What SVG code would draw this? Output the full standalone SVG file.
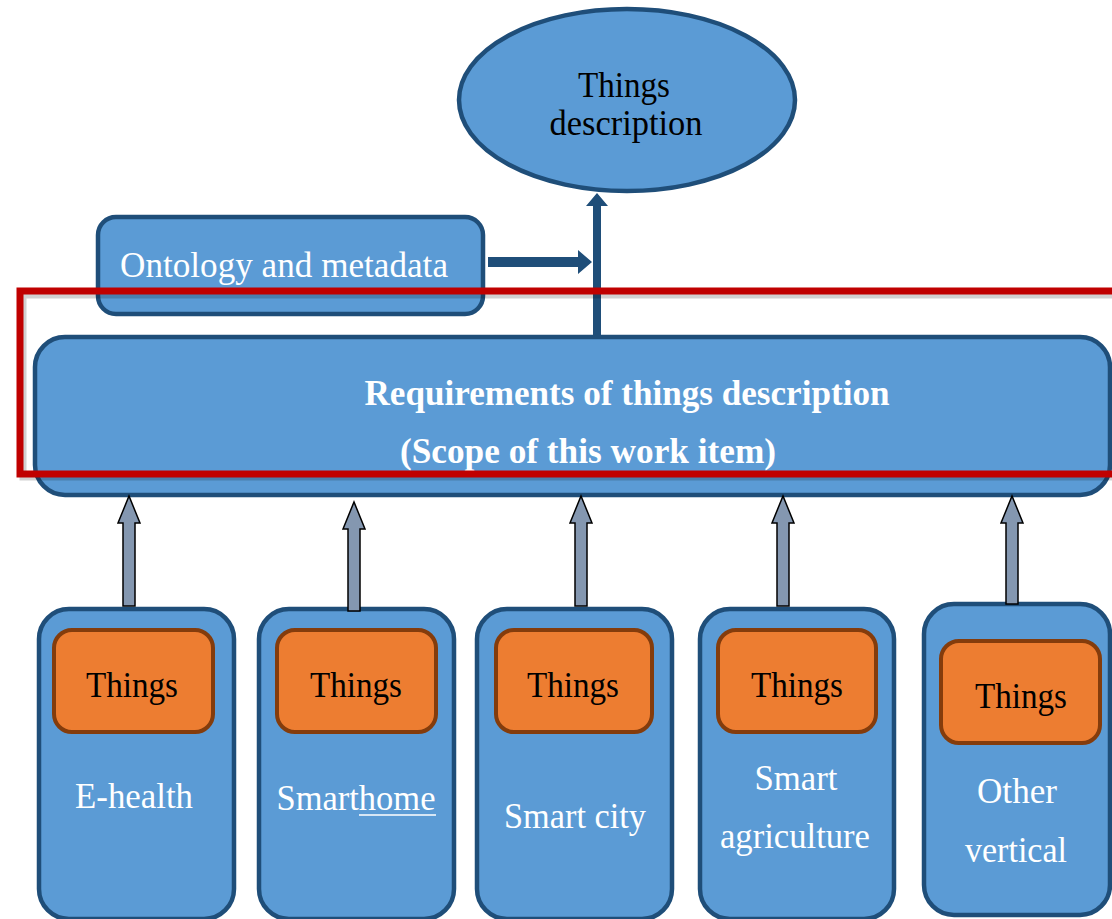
<svg xmlns="http://www.w3.org/2000/svg" width="1112" height="919" viewBox="0 0 1112 919">
<style>
.blue{fill:#5B9BD5;stroke:#1F4E79;stroke-width:4.5}
.org{fill:#ED7D31;stroke:#843C0C;stroke-width:4}
.up{fill:#8497B0;stroke:#000;stroke-width:1.5}
.t{font-family:"Liberation Serif","Times New Roman",serif;text-anchor:middle}
.w{fill:#fff;font-size:35px}
.k{fill:#000;font-size:35px}
.b{fill:#fff;font-size:35px;font-weight:bold}
</style>
<rect width="1112" height="919" fill="#fff"/>
<g id="things-description">
<ellipse class="blue" cx="627" cy="100" rx="168" ry="91"/>
<text class="t k" x="624" y="97" textLength="92" lengthAdjust="spacingAndGlyphs">Things</text>
<text class="t k" x="626" y="135" textLength="153" lengthAdjust="spacingAndGlyphs">description</text>
</g>
<g id="ontology">
<rect class="blue" x="98" y="217" width="385" height="97" rx="18"/>
<text class="t w" x="284" y="277" textLength="328" lengthAdjust="spacingAndGlyphs">Ontology  and metadata</text>
</g>
<g id="requirements">
<rect class="blue" x="35" y="337" width="1075" height="158" rx="30"/>
<text class="t b" x="627" y="405" textLength="525" lengthAdjust="spacingAndGlyphs">Requirements of things description</text>
<text class="t b" x="588" y="463" textLength="376" lengthAdjust="spacingAndGlyphs">(Scope of this work item)</text>
</g>
<g id="col-ehealth">
<rect class="blue" x="39" y="609" width="195" height="310" rx="30"/>
<rect class="org" x="54" y="630" width="159" height="102" rx="18"/>
<text class="t k" x="132" y="697" textLength="92" lengthAdjust="spacingAndGlyphs">Things</text>
<text class="t w" x="134" y="808" textLength="118" lengthAdjust="spacingAndGlyphs">E-health</text>
</g>
<g id="col-smarthome">
<rect class="blue" x="259" y="609" width="195" height="310" rx="30"/>
<rect class="org" x="277" y="630" width="159" height="102" rx="18"/>
<text class="t k" x="356" y="697" textLength="92" lengthAdjust="spacingAndGlyphs">Things</text>
<text class="t w" x="356" y="810" textLength="159" lengthAdjust="spacingAndGlyphs">Smarthome</text>
<line x1="359" y1="815" x2="436" y2="815" stroke="#fff" stroke-width="1.5"/>
</g>
<g id="col-smartcity">
<rect class="blue" x="477" y="609" width="195" height="310" rx="30"/>
<rect class="org" x="496" y="630" width="156" height="102" rx="18"/>
<text class="t k" x="573" y="697" textLength="92" lengthAdjust="spacingAndGlyphs">Things</text>
<text class="t w" x="575" y="828" textLength="142" lengthAdjust="spacingAndGlyphs">Smart city</text>
</g>
<g id="col-agriculture">
<rect class="blue" x="700" y="609" width="194" height="310" rx="30"/>
<rect class="org" x="718" y="630" width="158" height="102" rx="18"/>
<text class="t k" x="797" y="697" textLength="92" lengthAdjust="spacingAndGlyphs">Things</text>
<text class="t w" x="796" y="790" textLength="83" lengthAdjust="spacingAndGlyphs">Smart</text>
<text class="t w" x="795" y="848" textLength="150" lengthAdjust="spacingAndGlyphs">agriculture</text>
</g>
<g id="col-other">
<rect class="blue" x="924" y="604" width="186" height="311" rx="30"/>
<rect class="org" x="941" y="641" width="159" height="102" rx="18"/>
<text class="t k" x="1021" y="708" textLength="92" lengthAdjust="spacingAndGlyphs">Things</text>
<text class="t w" x="1017" y="803" textLength="80" lengthAdjust="spacingAndGlyphs">Other</text>
<text class="t w" x="1016" y="862" textLength="102" lengthAdjust="spacingAndGlyphs">vertical</text>
</g>
<g id="connectors">
<path d="M488 257H578V250L592 262L578 274V267H488Z" fill="#1F4E79"/>
<path d="M593 337V206H586L597 193L608 206H601V337Z" fill="#1F4E79"/>
<path class="up" d="M123 606V523H118L129 496L140 523H135V606Z"/>
<path class="up" d="M348 611V529H343L354 502L365 529H360V611Z"/>
<path class="up" d="M575 606V523H570L581 496L592 523H587V606Z"/>
<path class="up" d="M777 606V523H772L783 496L794 523H789V606Z"/>
<path class="up" d="M1006 604V523H1001L1012 496L1023 523H1018V604Z"/>
</g>
<g id="scope-frame">
<rect x="23" y="295" width="1100" height="182" fill="none" stroke="#000" stroke-opacity="0.18" stroke-width="7"/>
<rect x="20" y="291" width="1100" height="183" fill="none" stroke="#C00000" stroke-width="7"/>
</g>
</svg>
